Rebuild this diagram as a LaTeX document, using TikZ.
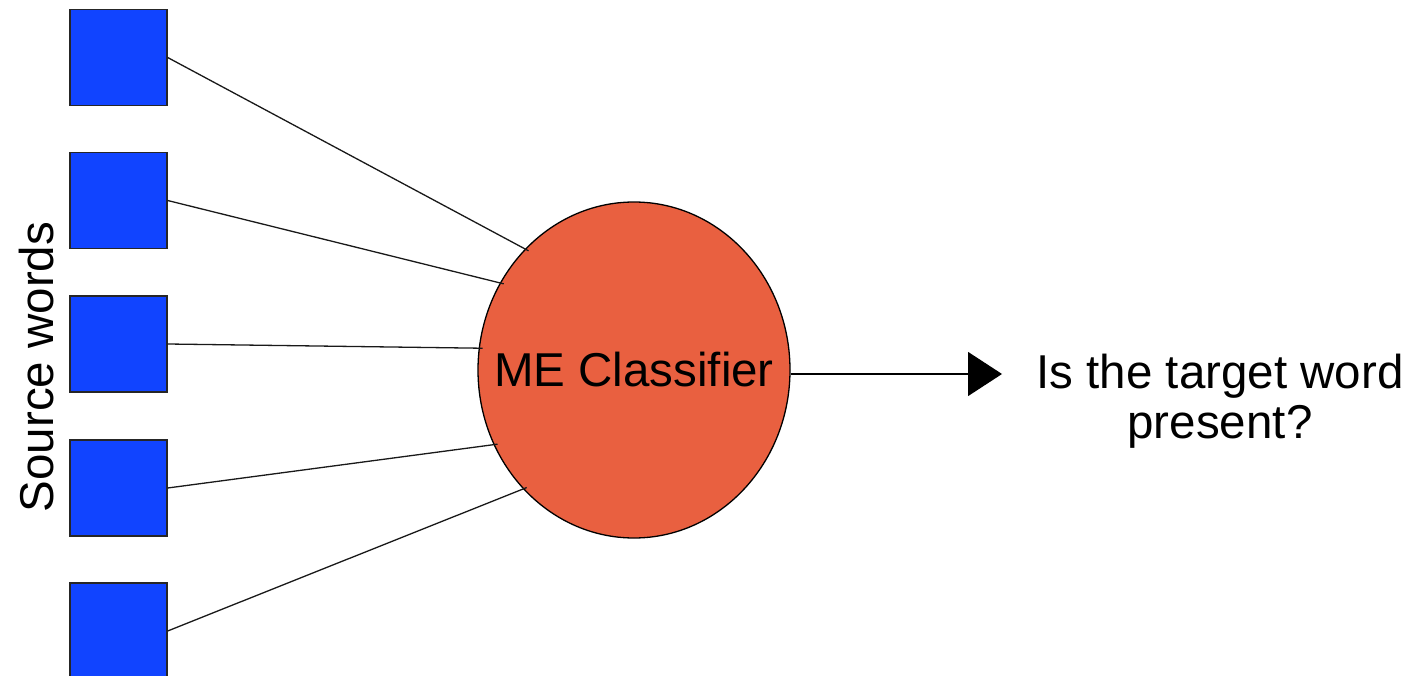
\documentclass[tikz,border=0pt]{standalone}
\usepackage{fontspec}
\setmainfont{Liberation Sans}
\usetikzlibrary{shapes.geometric,arrows.meta}
\definecolor{wordblue}{RGB}{17,68,255}
\definecolor{classred}{RGB}{233,96,64}
\tikzset{
  wordbox/.style={draw=black!85, fill=wordblue, line width=1.3pt,
    minimum width=97pt, minimum height=96pt, inner sep=0pt},
  classnode/.style={ellipse, draw=black, fill=classred, line width=1.3pt,
    minimum width=312pt, minimum height=336pt, inner sep=0pt},
  link/.style={draw=black!90, line width=1.3pt, shorten >=-4pt},
  bigtext/.style={font=\fontsize{47.5}{50}\selectfont, inner sep=0pt}
}
\begin{document}
\begin{tikzpicture}[x=1pt, y=-1pt]
  \useasboundingbox (0,0) rectangle (1410,676);

  % input word boxes
  \node[wordbox] (w1) at (118.5,57.5) {};
  \node[wordbox] (w2) at (118.5,200.5) {};
  \node[wordbox] (w3) at (118.5,344) {};
  \node[wordbox] (w4) at (118.5,488) {};
  \node[wordbox] (w5) at (118.5,631) {};

  \node[bigtext, rotate=90, anchor=base] (src) at (53,367) {Source words};

  % classifier (label set separately so the ellipse keeps its own size)
  \node[classnode] (clf) at (634,370) {};
  \node[bigtext] (clflabel) at (clf.center) {ME Classifier};

  \draw[link] (w1.east) -- (clf.132);
  \draw[link] (w2.east) -- (clf.147.6);
  \draw[link] (w3.east) -- (clf.172);
  \draw[link] (w4.east) -- (clf.208.5);
  \draw[link] (w5.east) -- (clf.227.7);

  % output
  \coordinate (tip) at (1002,374);
  \draw[line width=1.3pt, -{Triangle[length=34pt,width=44pt]}] (clf.east |- tip) -- (tip);

  \node[bigtext, align=center, anchor=north] (out) at (1220,353.5)
    {Is the target word\\present?};
\end{tikzpicture}
\end{document}
